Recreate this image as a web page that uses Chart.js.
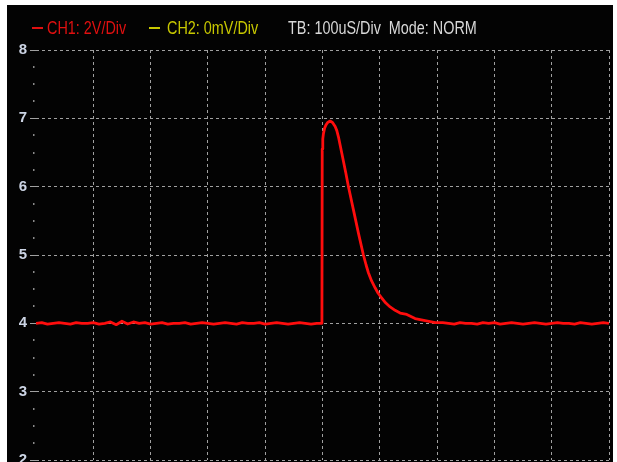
<!DOCTYPE html>
<html>
<head>
<meta charset="utf-8">
<script src="https://cdn.jsdelivr.net/npm/chart.js@4/dist/chart.umd.min.js"></script>
<style>
  html, body { margin: 0; padding: 0; background: #ffffff; overflow: hidden; width: 617px; height: 462px; }
  #scope { position: absolute; left: 7px; top: 5px; width: 606px; height: 480px; background: #030303; overflow: hidden; }
  #c { position: absolute; left: 0; top: 0; }
  .txt { position: absolute; top: 14px; font-family: "Liberation Sans", Arial, sans-serif; font-size: 18px; line-height: 18px; white-space: nowrap; transform: scaleX(0.8); transform-origin: 0 0; }
  .dash { position: absolute; top: 22px; width: 11px; height: 2px; }
</style>
</head>
<body>
<div id="scope">
  <canvas id="c" width="606" height="480"></canvas>
  <span class="dash" style="left:25px;background:#e01010"></span>
  <span class="txt" style="left:40px;color:#e01010">CH1: 2V/Div</span>
  <span class="dash" style="left:142px;background:#c8c800"></span>
  <span class="txt" style="left:160px;color:#c8c800">CH2: 0mV/Div</span>
  <span class="txt" style="left:281px;color:#d8d8d8">TB: 100uS/Div&nbsp; Mode: NORM</span>
</div>
<script>
// Time axis in divisions (TB: 100uS/Div), CH1 voltage readings
const timeDiv = [
  0.0,0.1,0.2,0.3,0.4,0.5,0.6,0.7,0.8,0.9,
  1.0,1.1,1.2,1.3,1.4,1.5,1.6,1.7,1.8,1.9,
  2.0,2.1,2.2,2.3,2.4,2.5,2.6,2.7,2.8,2.9,
  3.0,3.1,3.2,3.3,3.4,3.5,3.6,3.7,3.8,3.9,
  4.0,4.1,4.2,4.3,4.4,4.5,4.6,4.7,4.8,4.9,4.99,
  4.995,5.005,5.017,5.035,5.058,5.09,5.133,5.175,5.221,5.25,
  5.278,5.337,5.407,5.453,5.54,5.627,5.714,5.762,5.801,5.857,
  5.918,5.971,6.035,6.101,6.18,6.267,6.355,6.471,6.616,6.791,6.966,
  7.1,7.2,7.3,7.4,7.5,7.6,7.7,7.8,7.9,
  8.0,8.1,8.2,8.3,8.4,8.5,8.6,8.7,8.8,8.9,
  9.0,9.1,9.2,9.3,9.4,9.5,9.6,9.7,9.8,9.9,10.0
];
const ch1Volts = [
  4.00,4.01,3.99,4.00,4.01,4.00,3.99,4.01,4.00,4.00,
  4.01,3.99,4.00,4.02,3.98,4.03,3.99,4.02,4.00,4.01,
  3.99,4.00,4.01,3.99,4.00,4.00,4.01,3.99,4.00,4.01,
  4.00,3.99,4.00,4.01,4.00,3.99,4.01,4.00,4.00,4.01,
  3.99,4.00,4.01,4.00,3.99,4.00,4.01,4.00,3.99,4.00,4.00,
  6.55,6.70,6.78,6.85,6.90,6.94,6.96,6.94,6.88,6.82,
  6.73,6.49,6.20,6.00,5.66,5.32,5.00,4.85,4.74,4.62,
  4.52,4.44,4.37,4.30,4.24,4.19,4.15,4.13,4.07,4.04,4.01,
  4.01,4.00,3.99,4.01,4.00,4.00,3.99,4.01,4.00,
  4.01,3.99,4.00,4.01,4.00,3.99,4.00,4.01,4.00,3.99,
  4.00,4.01,4.00,4.00,3.99,4.01,4.00,3.99,4.00,4.01,4.00
];
const yTicks = [2, 3, 4, 5, 6, 7, 8];
const yMinorStep = 0.25;

const points = timeDiv.map((t, i) => ({ x: t, y: ch1Volts[i] }));

const minorDots = {
  id: 'minorDots',
  afterDraw(chart) {
    const y = chart.scales.y;
    const ctx = chart.ctx;
    ctx.save();
    ctx.fillStyle = '#8a8a8a';
    const x = chart.chartArea.left - 3;
    for (let v = yTicks[0]; v <= yTicks[yTicks.length - 1] + 1e-9; v += yMinorStep) {
      if (Math.abs(v - Math.round(v)) < 1e-9) continue;
      const py = Math.round(y.getPixelForValue(v));
      ctx.fillRect(x, py - 1, 1.5, 2);
    }
    ctx.restore();
  }
};

new Chart(document.getElementById('c'), {
  type: 'line',
  data: {
    datasets: [{
      label: 'CH1',
      data: points,
      borderColor: '#ff0d0d',
      borderWidth: 2.8,
      borderJoinStyle: 'round',
      pointRadius: 0,
      tension: 0,
      fill: false
    }]
  },
  options: {
    responsive: false,
    animation: false,
    devicePixelRatio: 1,
    layout: { padding: { top: 45, right: 4, bottom: 25, left: 0 } },
    plugins: { legend: { display: false }, tooltip: { enabled: false } },
    scales: {
      x: {
        type: 'linear',
        min: 0, max: 10,
        ticks: { display: false, stepSize: 1 },
        border: { display: false, dash: [3, 3] },
        grid: {
          drawTicks: false,
          color: ctx => (ctx.tick && ctx.tick.value === 0) ? 'rgba(0,0,0,0)' : '#a0a0a0',
          lineWidth: 1
        },
        afterFit: s => { s.height = 0; }
      },
      y: {
        type: 'linear',
        min: 2, max: 8,
        afterBuildTicks: s => { s.ticks = yTicks.map(v => ({ value: v })); },
        ticks: {
          color: '#ccd4e4',
          padding: 3,
          font: { family: '"Liberation Sans", Arial, sans-serif', size: 15, weight: 'bold' }
        },
        border: { display: false, dash: [3, 3] },
        grid: {
          color: '#a0a0a0',
          lineWidth: 1,
          tickLength: 6,
          tickColor: '#a0a0a0',
          tickBorderDash: [6, 0],
          tickWidth: 1
        },
        afterFit: s => { s.width = 29; }
      }
    }
  },
  plugins: [minorDots]
});
</script>
</body>
</html>
